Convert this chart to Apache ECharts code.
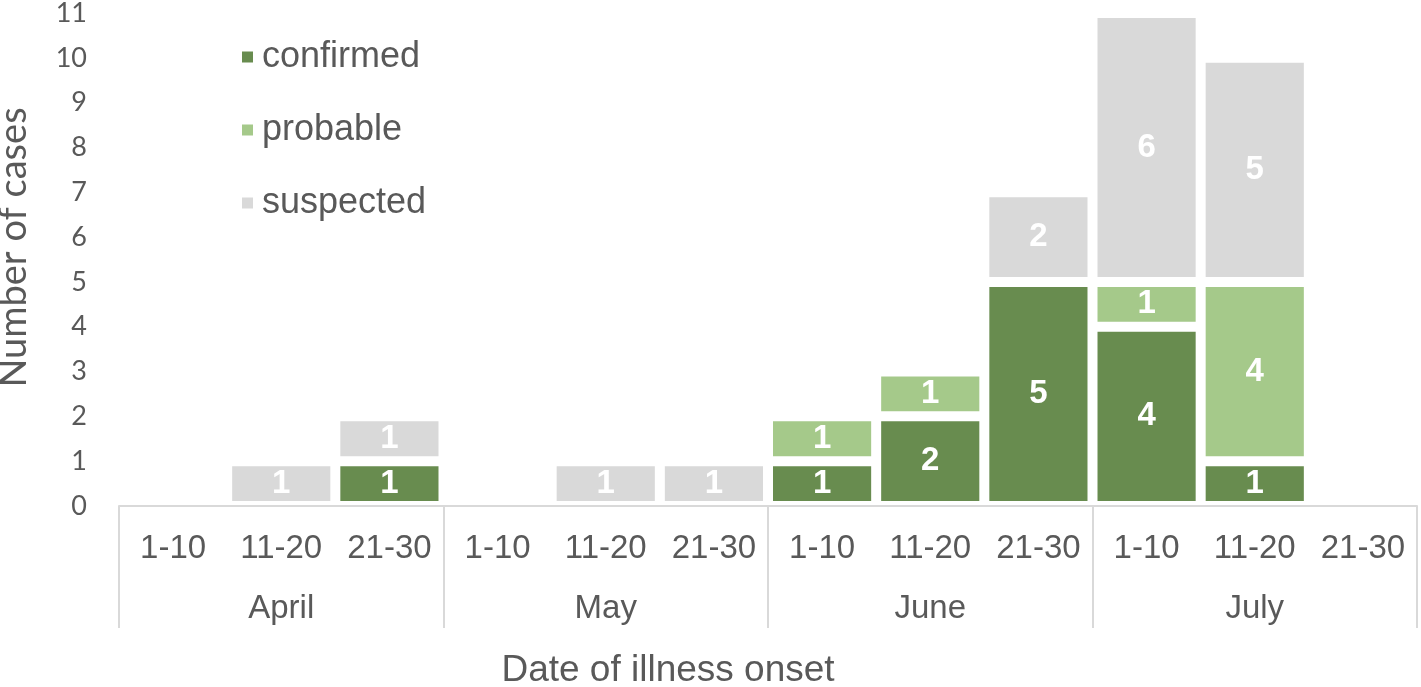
<!DOCTYPE html>
<html>
<head>
<meta charset="utf-8">
<script src="https://cdn.jsdelivr.net/npm/echarts@6/dist/echarts.min.js"></script>
<style>
  html, body { margin: 0; padding: 0; background: #fff; }
  #chart { width: 1421px; height: 687px; }
</style>
</head>
<body>
<div id="chart"></div>
<script>
// Datos
const periodos = ['1-10', '11-20', '21-30', '1-10', '11-20', '21-30', '1-10', '11-20', '21-30', '1-10', '11-20', '21-30'];
const meses = ['April', 'May', 'June', 'July'];
const confirmed = [0, 0, 1, 0, 0, 0, 1, 2, 5, 4, 1, 0];
const probable = [0, 0, 0, 0, 0, 0, 1, 1, 0, 1, 4, 0];
const suspected = [0, 1, 1, 0, 1, 1, 0, 0, 2, 6, 5, 0];
const yTicks = [0, 11, 1]; // min, max, intervalo

const gris = '#595959';
const lineaEje = '#d9d9d9';

const chart = echarts.init(document.getElementById('chart'));

// etiqueta blanca en negrita, oculta cuando vale 0
const etiqueta = {
    show: true,
    position: 'inside',
    color: '#fff',
    fontFamily: 'Liberation Sans',
    fontWeight: 'bold',
    fontSize: 33,
    formatter: p => (p.value ? p.value : '')
};

function serie(nombre, datos, color) {
    return {
        name: nombre,
        type: 'bar',
        stack: 'casos',
        data: datos,
        barCategoryGap: '0%',
        itemStyle: { color: color, borderColor: '#fff', borderWidth: 5 },
        label: etiqueta,
        emphasis: { disabled: true }
    };
}

chart.setOption({
    animation: false,
    grid: { left: 119, right: 4, top: 13, bottom: 181, containLabel: false, outerBoundsMode: 'none' },
    legend: {
        orient: 'vertical',
        left: 235,
        top: 32,
        itemWidth: 13,
        itemHeight: 13,
        itemGap: 33,
        icon: 'rect',
        textStyle: { color: gris, fontFamily: 'Liberation Sans', fontSize: 36, lineHeight: 40, padding: [0, 0, 0, 3] },
        data: ['confirmed', 'probable', 'suspected']
    },
    xAxis: [
        {
            type: 'category',
            data: periodos,
            position: 'bottom',
            z: 5,
            axisLine: { lineStyle: { color: lineaEje, width: 2 } },
            axisTick: { show: false },
            axisLabel: { color: gris, fontFamily: 'Liberation Sans', fontSize: 33, margin: 26, interval: 0 }
        },
        {
            type: 'category',
            data: meses,
            position: 'bottom',
            z: 5,
            axisLine: { show: false },
            axisTick: { show: true, length: 122, lineStyle: { color: lineaEje, width: 2 } },
            axisLabel: { color: gris, fontFamily: 'Liberation Sans', fontSize: 33, margin: 86, interval: 0 },
            name: 'Date of illness onset',
            nameLocation: 'middle',
            nameGap: 146,
            nameTextStyle: { color: gris, fontFamily: 'Liberation Sans', fontSize: 37, padding: [0, 200, 0, 0] }
        }
    ],
    yAxis: {
        type: 'value',
        min: yTicks[0],
        max: yTicks[1],
        interval: yTicks[2],
        axisLine: { show: false },
        axisTick: { show: false },
        splitLine: { show: false },
        axisLabel: { color: gris, fontFamily: 'Lato', fontSize: 27, margin: 32 },
        name: 'Number of cases',
        nameLocation: 'middle',
        nameGap: 86,
        nameRotate: 90,
        nameTextStyle: { color: gris, fontFamily: 'Lato', fontSize: 38, padding: [0, 0, 0, 24] }
    },
    series: [
        serie('confirmed', confirmed, '#688c4f'),
        serie('probable', probable, '#a5c98a'),
        serie('suspected', suspected, '#d9d9d9')
    ]
});
</script>
</body>
</html>
